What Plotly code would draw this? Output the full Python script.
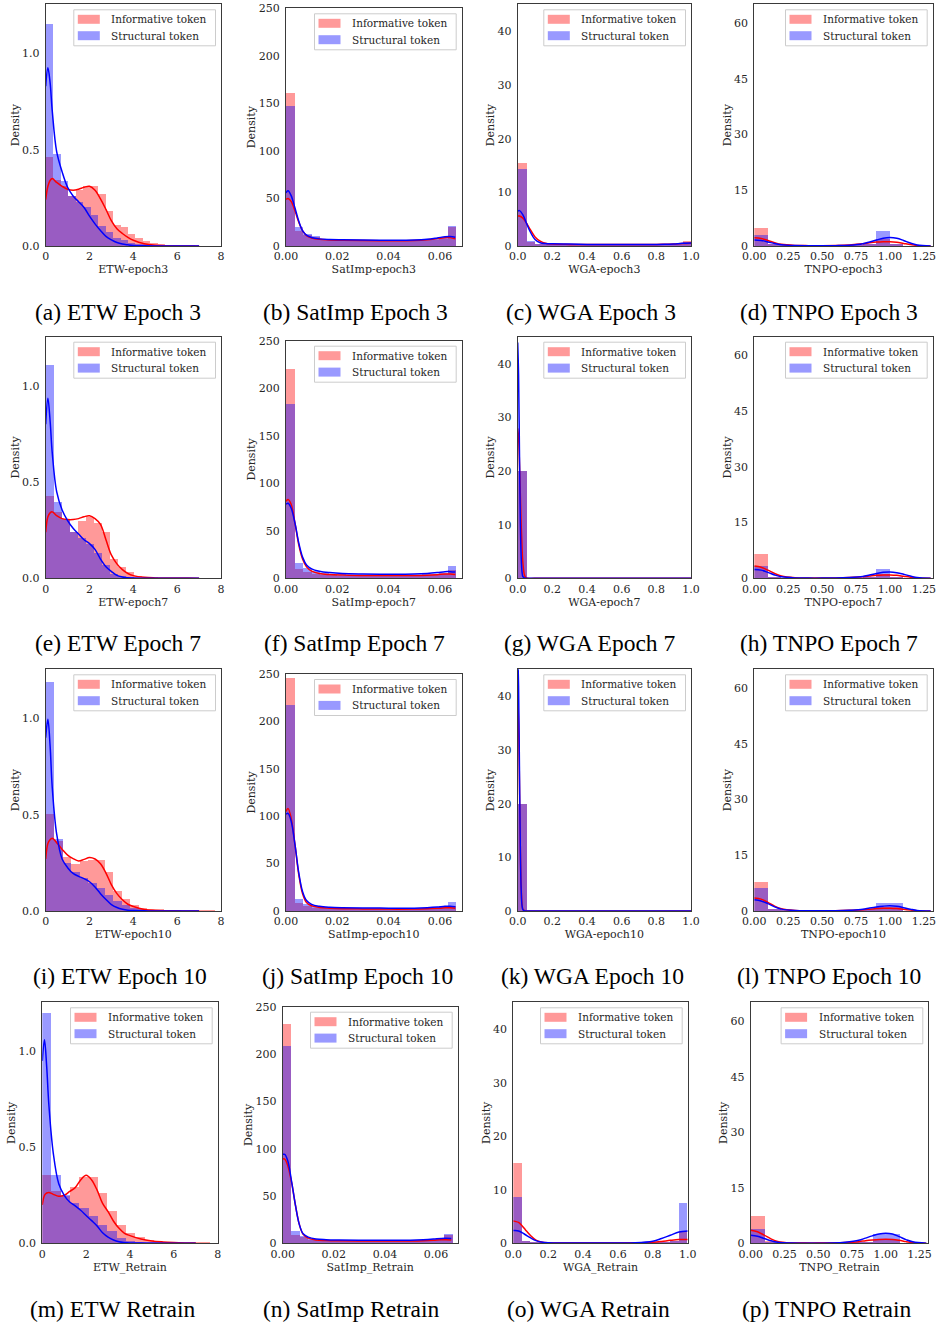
import plotly.graph_objects as go

# ------------------------------------------------------------------
# DATA
# ------------------------------------------------------------------
SERIES_NAMES = ["Informative token", "Structural token"]

# ---- ETW ----
ETW_KDE_X = [0, 0.1, 0.2, 0.3, 0.5, 0.75, 1.0, 1.25, 1.5, 1.75, 2.0, 2.25, 2.5,
             2.75, 3.0, 3.25, 3.5, 3.75, 4.0, 4.5, 5.0, 5.5, 6.0, 6.5, 7.0]

ETW3_BIN_W = 0.34
ETW3_INF_HIST = [0.46, 0.34, 0.31, 0.26, 0.29, 0.31, 0.31, 0.27, 0.18, 0.11, 0.095,
                 0.06, 0.04, 0.025, 0.012, 0.006, 0.003, 0.002, 0.001, 0.001]
ETW3_STR_HIST = [1.15, 0.475, 0.335, 0.26, 0.225, 0.2, 0.16, 0.1, 0.07, 0.04, 0.03,
                 0.015, 0.008, 0.005, 0.003, 0.002, 0.0, 0.001, 0.0, 0.0]
ETW3_INF_KDE = [0.24, 0.31, 0.34, 0.35, 0.33, 0.31, 0.295, 0.29, 0.295, 0.305, 0.31,
                0.29, 0.245, 0.19, 0.13, 0.09, 0.065, 0.045, 0.03, 0.012, 0.004,
                0.001, 0.0, 0.0, 0.0]
ETW3_STR_KDE = [0.83, 0.925, 0.85, 0.7, 0.49, 0.385, 0.305, 0.26, 0.23, 0.2, 0.155,
                0.115, 0.08, 0.05, 0.032, 0.018, 0.01, 0.006, 0.003, 0.001, 0.0,
                0.0, 0.0, 0.0, 0.0]

ETW7_BIN_W = 0.365
ETW7_INF_HIST = [0.43, 0.345, 0.31, 0.24, 0.30, 0.32, 0.29, 0.24, 0.10, 0.06, 0.035,
                 0.015, 0.008, 0.004, 0.002, 0.002, 0.001, 0.001, 0.001, 0.001]
ETW7_STR_HIST = [1.11, 0.40, 0.31, 0.24, 0.21, 0.18, 0.135, 0.07, 0.026, 0.012, 0.006,
                 0.003, 0.002, 0.001, 0.0, 0.0, 0.0, 0.0, 0.0, 0.0]
ETW7_INF_KDE = [0.24, 0.32, 0.34, 0.345, 0.325, 0.31, 0.305, 0.305, 0.31, 0.32, 0.325,
                0.31, 0.28, 0.2, 0.12, 0.075, 0.045, 0.025, 0.014, 0.005, 0.002,
                0.001, 0.001, 0.001, 0.0]
ETW7_STR_KDE = [0.8, 0.935, 0.82, 0.65, 0.45, 0.355, 0.3, 0.26, 0.23, 0.2, 0.18,
                0.15, 0.1, 0.06, 0.035, 0.015, 0.007, 0.003, 0.001, 0.0, 0.0, 0.0,
                0.0, 0.0, 0.0]

ETW10_BIN_W = 0.385
ETW10_INF_HIST = [0.5, 0.36, 0.28, 0.24, 0.26, 0.265, 0.265, 0.2, 0.1, 0.06, 0.03,
                  0.015, 0.008, 0.004, 0.002, 0.001, 0.001, 0.001, 0.001, 0.001]
ETW10_STR_HIST = [1.19, 0.37, 0.25, 0.2, 0.17, 0.145, 0.12, 0.08, 0.05, 0.03, 0.012,
                  0.006, 0.003, 0.002, 0.001, 0.001, 0.0, 0.0, 0.0, 0.0]
ETW10_INF_KDE = [0.27, 0.35, 0.37, 0.378, 0.355, 0.32, 0.29, 0.272, 0.26, 0.268, 0.278,
                 0.27, 0.245, 0.197, 0.136, 0.09, 0.058, 0.035, 0.023, 0.008, 0.003,
                 0.001, 0.001, 0.0, 0.0]
ETW10_STR_KDE = [0.9, 0.995, 0.86, 0.64, 0.4, 0.27, 0.225, 0.195, 0.18, 0.168, 0.152,
                 0.125, 0.09, 0.06, 0.033, 0.018, 0.009, 0.004, 0.002, 0.001, 0.0,
                 0.0, 0.0, 0.0, 0.0]

ETWR_BIN_W = 0.425
ETWR_INF_HIST = [0.355, 0.27, 0.245, 0.29, 0.345, 0.345, 0.26, 0.165, 0.095, 0.05,
                 0.03, 0.015, 0.008, 0.004, 0.002, 0.002, 0.001, 0.001]
ETWR_STR_HIST = [1.2, 0.355, 0.25, 0.21, 0.18, 0.14, 0.095, 0.06, 0.025, 0.01,
                 0.004, 0.002, 0.001, 0.001, 0.0, 0.0, 0.0, 0.0]
ETWR_INF_KDE = [0.2, 0.25, 0.262, 0.265, 0.255, 0.245, 0.25, 0.27, 0.29, 0.33, 0.354,
                0.33, 0.277, 0.208, 0.165, 0.115, 0.078, 0.052, 0.04, 0.022, 0.012,
                0.007, 0.004, 0.002, 0.001]
ETWR_STR_KDE = [0.95, 1.06, 0.92, 0.72, 0.47, 0.31, 0.25, 0.215, 0.195, 0.172, 0.145,
                0.118, 0.09, 0.055, 0.032, 0.017, 0.008, 0.004, 0.002, 0.001, 0.0,
                0.0, 0.0, 0.0, 0.0]

# ---- SatImp ----
SAT_BIN_W = 0.00332
SAT_KDE_X = [0, 0.0008, 0.002, 0.0035, 0.005, 0.0065, 0.008, 0.01, 0.013, 0.017,
             0.022, 0.03, 0.04, 0.05, 0.055, 0.059, 0.062, 0.064, 0.066]

SAT3_INF_HIST = [160.6, 15, 11.5, 9.5, 7, 6, 5.5, 5.5, 5.2, 5, 5, 5, 5, 5.2, 5.3,
                 5.5, 6, 6.5, 7.5, 20]
SAT3_STR_HIST = [146.6, 19.3, 12.3, 10, 7.5, 6.5, 6, 5.8, 5.5, 5.3, 5.2, 5.2, 5.3,
                 5.5, 5.6, 5.8, 6.2, 7, 8, 21]
SAT3_INF_KDE = [49, 50, 47, 37, 25, 16, 11, 8.5, 7, 6.4, 6, 5.8, 5.6, 5.8, 6.5, 7.8,
                8.8, 8.8, 7.5]
SAT3_STR_KDE = [56, 58, 53, 40, 26, 16, 11.5, 9, 7.5, 6.8, 6.5, 6.2, 6.0, 6.2, 7,
                8.5, 9.8, 10, 9.2]

SAT7_INF_HIST = [221, 9.8, 7, 5, 4, 3.5, 3.2, 3, 3, 3, 3, 3, 3, 3, 3, 3.2, 3.5, 4,
                 5, 8.8]
SAT7_STR_HIST = [183.4, 16.8, 10.9, 7.5, 5.5, 4.8, 4.5, 4.2, 4, 4, 3.8, 3.8, 3.8,
                 3.8, 4, 4.2, 4.5, 5, 6, 13]
SAT7_INF_KDE = [81, 83, 78, 58, 35, 20, 12, 7.5, 5, 4, 3.5, 3, 3, 3, 3.2, 3.8, 4.5,
                4.5, 4]
SAT7_STR_KDE = [78, 79, 74, 58, 37, 22, 14, 10, 7.5, 6, 5, 4.5, 4.2, 4.4, 5, 6, 7,
                7, 6.5]

SAT10_INF_HIST = [245.8, 8, 5.6, 3.5, 2.8, 2.5, 2.3, 2.2, 2.2, 2.2, 2.2, 2.2, 2.2,
                  2.2, 2.3, 2.5, 2.8, 3.2, 3.8, 5.6]
SAT10_STR_HIST = [217.6, 12.3, 7.4, 5, 4, 3.6, 3.4, 3.2, 3, 3, 2.9, 2.9, 2.9, 3, 3,
                  3.2, 3.5, 4, 5, 9.2]
SAT10_INF_KDE = [105, 108, 98, 70, 38, 18, 9, 5.5, 3.8, 3, 2.5, 2.2, 2, 2, 2.3, 2.8,
                 3.3, 3.3, 3]
SAT10_STR_KDE = [102, 103, 95, 70, 40, 20, 11, 7, 5, 4, 3.5, 3.2, 3, 3, 3.5, 4.2, 5,
                 5, 4.6]

SATR_INF_HIST = [231.7, 8.8, 7, 4, 3, 2.8, 2.6, 2.5, 2.5, 2.5, 2.5, 2.5, 2.5, 2.5,
                 2.6, 2.8, 3, 3.5, 4.5, 8.8]
SATR_STR_HIST = [208.5, 13.7, 8, 5, 4, 3.6, 3.4, 3.2, 3.2, 3.2, 3.2, 3.2, 3.2, 3.2,
                 3.3, 3.5, 3.8, 4.5, 5.5, 10.6]
SATR_INF_KDE = [89, 89, 82, 64, 40, 20, 9.5, 5.5, 3.5, 3, 2.7, 2.5, 2.4, 2.5, 2.8,
                3.3, 3.8, 3.8, 3.5]
SATR_STR_KDE = [94, 94, 87, 65, 40, 20, 10, 6.5, 4.5, 3.8, 3.5, 3.3, 3.2, 3.3, 3.8,
                4.5, 5.2, 5.3, 5]

# ---- WGA ----
WGA_BIN_W = 0.05
WGA_KDE_X = [0, 0.01, 0.03, 0.05, 0.07, 0.1, 0.13, 0.16, 0.2, 0.3, 0.4, 0.5, 0.6,
             0.7, 0.8, 0.85, 0.9, 0.95, 1.0]
WGA_SPIKE_X = [0, 0.005, 0.01, 0.015, 0.02, 0.025, 0.03, 0.04, 0.05, 0.1, 0.5, 1.0]

WGA3_INF_HIST = [15.4, 0.6, 0.3, 0.2, 0.15, 0.12, 0.1, 0.1, 0.1, 0.1, 0.1, 0.1, 0.1,
                 0.1, 0.1, 0.12, 0.15, 0.2, 0.3, 0.93]
WGA3_STR_HIST = [14.4, 0.93, 0.35, 0.2, 0.15, 0.12, 0.1, 0.1, 0.1, 0.1, 0.1, 0.1,
                 0.1, 0.1, 0.1, 0.12, 0.15, 0.2, 0.3, 0.6]
WGA3_INF_KDE = [5.6, 5.6, 5.2, 4.3, 3.2, 1.7, 0.9, 0.5, 0.35, 0.3, 0.3, 0.3, 0.3,
                0.3, 0.3, 0.32, 0.35, 0.45, 0.5]
WGA3_STR_KDE = [6.5, 6.6, 5.8, 4.3, 2.8, 1.2, 0.6, 0.45, 0.4, 0.35, 0.3, 0.3, 0.3,
                0.3, 0.3, 0.32, 0.38, 0.5, 0.55]

WGA7_INF_HIST = [20.0]
WGA7_STR_HIST = [20.0]
WGA7_INF_KDE = [28, 26.3, 21.7, 15.9, 10, 5.7, 2.8, 0.5, 0.05, 0.0, 0.0, 0.0]
WGA7_STR_KDE = [44, 38, 24, 11, 4, 1.2, 0.3, 0.05, 0.02, 0.0, 0.0, 0.0]

WGA10_INF_HIST = [20.0]
WGA10_STR_HIST = [20.0]
WGA10_INF_KDE = [40, 35, 24, 12, 4.5, 1.3, 0.3, 0.05, 0.0, 0.0, 0.0, 0.0]
WGA10_STR_KDE = [48, 42, 27, 12, 4, 1.0, 0.25, 0.03, 0.0, 0.0, 0.0, 0.0]

WGAR_INF_HIST = [14.9, 0.4, 0.1, 0.05, 0.05, 0.05, 0.05, 0.05, 0.05, 0.05, 0.05,
                 0.05, 0.05, 0.05, 0.05, 0.05, 0.05, 0.1, 0.2, 2.2]
WGAR_STR_HIST = [8.6, 0.4, 0.1, 0.05, 0.05, 0.05, 0.05, 0.05, 0.05, 0.05, 0.05,
                 0.05, 0.05, 0.05, 0.05, 0.05, 0.05, 0.1, 0.2, 7.5]
WGAR_INF_KDE = [4.2, 4.1, 3.9, 3.3, 2.5, 1.4, 0.6, 0.25, 0.1, 0.05, 0.05, 0.05,
                0.05, 0.08, 0.2, 0.35, 0.55, 0.7, 0.7]
WGAR_STR_KDE = [2.4, 2.4, 2.3, 2.0, 1.6, 1.0, 0.5, 0.25, 0.1, 0.05, 0.05, 0.05,
                0.05, 0.1, 0.4, 0.9, 1.5, 2.1, 2.3]

# ---- TNPO ----
TNPO_BIN_W = 0.1
TNPO_KDE_X = [0, 0.05, 0.1, 0.15, 0.2, 0.3, 0.4, 0.5, 0.6, 0.7, 0.8, 0.85, 0.9,
              0.95, 1.0, 1.05, 1.1, 1.15, 1.2, 1.3]

TNPO3_INF_HIST = [4.8, 0.3, 0.1, 0.05, 0.05, 0.05, 0.05, 0.1, 0.2, 1.8, 0.3]
TNPO3_STR_HIST = [3.0, 0.2, 0.1, 0.05, 0.05, 0.05, 0.05, 0.1, 0.2, 3.9, 0.5]
TNPO3_INF_KDE = [2.2, 2.0, 1.5, 0.9, 0.45, 0.15, 0.1, 0.1, 0.15, 0.3, 0.6, 0.85,
                 1.05, 1.15, 1.15, 1.0, 0.7, 0.4, 0.15, 0.02]
TNPO3_STR_KDE = [1.6, 1.5, 1.1, 0.65, 0.35, 0.12, 0.08, 0.08, 0.1, 0.2, 0.6, 1.1,
                 1.6, 2.1, 2.3, 2.1, 1.5, 0.8, 0.3, 0.03]

TNPO7_INF_HIST = [6.7, 0.3, 0.1, 0.05, 0.05, 0.05, 0.05, 0.1, 0.2, 1.2, 0.3]
TNPO7_STR_HIST = [3.5, 0.2, 0.1, 0.05, 0.05, 0.05, 0.05, 0.1, 0.2, 2.6, 0.4]
TNPO7_INF_KDE = [3.3, 3.0, 2.2, 1.3, 0.6, 0.15, 0.08, 0.08, 0.1, 0.2, 0.4, 0.6, 0.8,
                 0.9, 0.9, 0.8, 0.55, 0.3, 0.1, 0.01]
TNPO7_STR_KDE = [2.4, 2.2, 1.6, 0.9, 0.4, 0.1, 0.05, 0.05, 0.08, 0.2, 0.5, 0.9, 1.3,
                 1.6, 1.7, 1.5, 1.1, 0.6, 0.2, 0.02]

TNPO10_INF_HIST = [7.8, 0.3, 0.1, 0.05, 0.05, 0.05, 0.05, 0.1, 0.2, 0.9, 0.9]
TNPO10_STR_HIST = [6.0, 0.2, 0.1, 0.05, 0.05, 0.05, 0.05, 0.1, 0.2, 2.0, 2.0]
TNPO10_INF_KDE = [3.5, 3.2, 2.3, 1.3, 0.6, 0.15, 0.08, 0.08, 0.1, 0.2, 0.35, 0.5,
                  0.65, 0.75, 0.75, 0.65, 0.45, 0.25, 0.08, 0.01]
TNPO10_STR_KDE = [3.0, 2.7, 2.0, 1.1, 0.5, 0.12, 0.05, 0.05, 0.08, 0.2, 0.45, 0.8,
                  1.1, 1.3, 1.4, 1.25, 0.9, 0.5, 0.15, 0.02]

TNPOR_INF_HIST = [7.2, 0.3, 0.05, 0.02, 0.02, 0.02, 0.02, 0.05, 0.1, 0.9, 0.9]
TNPOR_STR_HIST = [3.9, 0.2, 0.05, 0.02, 0.02, 0.02, 0.02, 0.05, 0.1, 2.3, 2.3]
TNPOR_INF_KDE = [3.5, 3.1, 2.2, 1.2, 0.5, 0.1, 0.05, 0.05, 0.1, 0.2, 0.45, 0.7, 0.9,
                 1.05, 1.1, 1.05, 0.8, 0.45, 0.2, 0.02]
TNPOR_STR_KDE = [2.2, 1.9, 1.3, 0.7, 0.3, 0.08, 0.04, 0.04, 0.1, 0.3, 0.8, 1.4, 2.0,
                 2.5, 2.7, 2.5, 1.8, 1.0, 0.4, 0.03]

# ---- axis ticks per method ----
ETW_XTICKS = [0, 2, 4, 6, 8]
ETW_YTICKS = [0.0, 0.5, 1.0]
SAT_XTICKS = [0.0, 0.02, 0.04, 0.06]
SAT_YTICKS = [0, 50, 100, 150, 200, 250]
WGA_XTICKS = [0.0, 0.2, 0.4, 0.6, 0.8, 1.0]
WGA_YTICKS = [0, 10, 20, 30, 40]
TNPO_XTICKS = [0.0, 0.25, 0.5, 0.75, 1.0, 1.25]
TNPO_YTICKS = [0, 15, 30, 45, 60]

# ------------------------------------------------------------------
# PANEL DEFINITIONS
# ------------------------------------------------------------------
PANELS = [
    ("ETW", "ETW-epoch3", "(a) ETW Epoch 3", ETW3_BIN_W, ETW3_INF_HIST, ETW3_STR_HIST, ETW_KDE_X, ETW3_INF_KDE, ETW3_STR_KDE),
    ("SAT", "SatImp-epoch3", "(b) SatImp Epoch 3", SAT_BIN_W, SAT3_INF_HIST, SAT3_STR_HIST, SAT_KDE_X, SAT3_INF_KDE, SAT3_STR_KDE),
    ("WGA", "WGA-epoch3", "(c) WGA Epoch 3", WGA_BIN_W, WGA3_INF_HIST, WGA3_STR_HIST, WGA_KDE_X, WGA3_INF_KDE, WGA3_STR_KDE),
    ("TNPO", "TNPO-epoch3", "(d) TNPO Epoch 3", TNPO_BIN_W, TNPO3_INF_HIST, TNPO3_STR_HIST, TNPO_KDE_X, TNPO3_INF_KDE, TNPO3_STR_KDE),
    ("ETW", "ETW-epoch7", "(e) ETW Epoch 7", ETW7_BIN_W, ETW7_INF_HIST, ETW7_STR_HIST, ETW_KDE_X, ETW7_INF_KDE, ETW7_STR_KDE),
    ("SAT", "SatImp-epoch7", "(f) SatImp Epoch 7", SAT_BIN_W, SAT7_INF_HIST, SAT7_STR_HIST, SAT_KDE_X, SAT7_INF_KDE, SAT7_STR_KDE),
    ("WGA", "WGA-epoch7", "(g) WGA Epoch 7", WGA_BIN_W, WGA7_INF_HIST, WGA7_STR_HIST, WGA_SPIKE_X, WGA7_INF_KDE, WGA7_STR_KDE),
    ("TNPO", "TNPO-epoch7", "(h) TNPO Epoch 7", TNPO_BIN_W, TNPO7_INF_HIST, TNPO7_STR_HIST, TNPO_KDE_X, TNPO7_INF_KDE, TNPO7_STR_KDE),
    ("ETW", "ETW-epoch10", "(i) ETW Epoch 10", ETW10_BIN_W, ETW10_INF_HIST, ETW10_STR_HIST, ETW_KDE_X, ETW10_INF_KDE, ETW10_STR_KDE),
    ("SAT", "SatImp-epoch10", "(j) SatImp Epoch 10", SAT_BIN_W, SAT10_INF_HIST, SAT10_STR_HIST, SAT_KDE_X, SAT10_INF_KDE, SAT10_STR_KDE),
    ("WGA", "WGA-epoch10", "(k) WGA Epoch 10", WGA_BIN_W, WGA10_INF_HIST, WGA10_STR_HIST, WGA_SPIKE_X, WGA10_INF_KDE, WGA10_STR_KDE),
    ("TNPO", "TNPO-epoch10", "(l) TNPO Epoch 10", TNPO_BIN_W, TNPO10_INF_HIST, TNPO10_STR_HIST, TNPO_KDE_X, TNPO10_INF_KDE, TNPO10_STR_KDE),
    ("ETW", "ETW_Retrain", "(m) ETW Retrain", ETWR_BIN_W, ETWR_INF_HIST, ETWR_STR_HIST, ETW_KDE_X, ETWR_INF_KDE, ETWR_STR_KDE),
    ("SAT", "SatImp_Retrain", "(n) SatImp Retrain", SAT_BIN_W, SATR_INF_HIST, SATR_STR_HIST, SAT_KDE_X, SATR_INF_KDE, SATR_STR_KDE),
    ("WGA", "WGA_Retrain", "(o) WGA Retrain", WGA_BIN_W, WGAR_INF_HIST, WGAR_STR_HIST, WGA_KDE_X, WGAR_INF_KDE, WGAR_STR_KDE),
    ("TNPO", "TNPO_Retrain", "(p) TNPO Retrain", TNPO_BIN_W, TNPOR_INF_HIST, TNPOR_STR_HIST, TNPO_KDE_X, TNPOR_INF_KDE, TNPOR_STR_KDE),
]

# ------------------------------------------------------------------
# LAYOUT / STYLE (pixel geometry of the page)
# ------------------------------------------------------------------
W, H = 938, 1326

AXES = {
    "ETW": dict(xr=[0, 8], yr=[0, 1.255], xt=ETW_XTICKS, yt=ETW_YTICKS, xf="d", yf=".1f"),
    "SAT": dict(xr=[0, 0.0685], yr=[0, 250], xt=SAT_XTICKS, yt=SAT_YTICKS, xf=".2f", yf="d"),
    "WGA": dict(xr=[0, 1.0], yr=[0, 45.1], xt=WGA_XTICKS, yt=WGA_YTICKS, xf=".1f", yf="d"),
    "TNPO": dict(xr=[0, 1.315], yr=[0, 65.1], xt=TNPO_XTICKS, yt=TNPO_YTICKS, xf=".2f", yf="d"),
}

# plot-area boxes in px: (left, right, top, bottom)
BOXES = [
    (45.7, 221.0, 4.3, 246.0), (286.0, 461.7, 8.3, 246.0), (517.7, 691.0, 4.3, 246.0), (754.3, 932.7, 4.3, 246.0),
    (45.7, 221.0, 336.7, 578.3), (286.0, 461.7, 340.7, 578.3), (517.7, 691.0, 336.7, 578.3), (754.3, 932.7, 336.7, 578.3),
    (45.7, 221.0, 669.3, 911.0), (286.0, 461.7, 674.0, 911.0), (517.7, 691.0, 669.3, 911.0), (754.3, 932.7, 669.3, 911.0),
    (42.3, 217.7, 1002.3, 1243.3), (282.7, 457.7, 1006.7, 1243.3), (513.3, 687.7, 1002.3, 1243.3), (750.7, 928.3, 1002.3, 1243.3),
]
# caption centres in px
CAPTIONS = [
    (117.5, 311.5), (355.0, 311.5), (591.0, 311.5), (829.0, 311.5),
    (117.5, 643.0), (354.0, 643.0), (589.0, 643.0), (829.0, 643.0),
    (120.0, 976.0), (357.0, 976.0), (592.0, 976.0), (829.0, 976.0),
    (113.0, 1308.5), (350.8, 1308.5), (588.3, 1308.5), (826.7, 1308.5),
]

RED = "#ff0000"
BLUE = "#0000ff"
RED_PATCH = "rgba(255,0,0,0.4)"
BLUE_PATCH = "rgba(0,0,255,0.4)"
ALPHA = 0.4
SPINE = "#3a3a3a"
TEXT = "#262626"
TICK_FONT = dict(family="DejaVu Serif", size=11, color=TEXT)
LABEL_FONT = dict(family="DejaVu Serif", size=11, color=TEXT)
LEGEND_FONT = dict(family="DejaVu Serif", size=10.5, color=TEXT)
CAPTION_FONT = dict(family="Liberation Serif", size=23.5, color="#000000")

# legend geometry relative to the axes' top-right corner (px)
LEG_INSET = 5.5
LEG_W, LEG_H = 141.7, 36.0
LEG_ROWS = [15.0, 31.4]          # row centres below axes top
LEG_PATCH_X = (4.0, 26.0)        # patch span from legend left
LEG_PATCH_H = 9.0
LEG_TEXT_X = 35.5


def px(x):
    return x / W


def py(y):
    return 1 - y / H


fig = go.Figure()
layout = dict(
    width=W, height=H, margin=dict(l=0, r=0, t=0, b=0),
    paper_bgcolor="white", plot_bgcolor="white",
    barmode="overlay", bargap=0, showlegend=False, template="none",
)
annotations = []
shapes = []

for i, (method, xlabel, caption, bw, inf_h, str_h, kx, inf_k, str_k) in enumerate(PANELS):
    n = i + 1
    sfx = "" if n == 1 else str(n)
    xa, ya = "x" + sfx, "y" + sfx

    for name, hist, kde, color in ((SERIES_NAMES[0], inf_h, inf_k, RED),
                                   (SERIES_NAMES[1], str_h, str_k, BLUE)):
        edges = [k * bw for k in range(len(hist))]
        fig.add_trace(go.Bar(
            x=edges, y=hist, width=bw, offset=0, name=name,
            marker=dict(color=color, line=dict(width=0)), opacity=ALPHA,
            xaxis=xa, yaxis=ya, hoverinfo="skip",
        ))
        fig.add_trace(go.Scatter(
            x=kx, y=kde, mode="lines", name=name + " KDE",
            line=dict(color=color, width=1.5, shape="spline", smoothing=1.0),
            xaxis=xa, yaxis=ya, hoverinfo="skip", cliponaxis=True,
        ))

    l, r, t, b = BOXES[i]
    ax = AXES[method]
    layout["xaxis" + sfx] = dict(
        domain=[px(l), px(r)], anchor=ya, range=ax["xr"], tickvals=ax["xt"],
        tickformat=ax["xf"], ticks="", showgrid=False, zeroline=False,
        showline=True, mirror=True, linecolor=SPINE, linewidth=1.2,
        tickfont=TICK_FONT, automargin=False,
        title=dict(text=xlabel, font=LABEL_FONT, standoff=2),
    )
    layout["yaxis" + sfx] = dict(
        domain=[py(b), py(t)], anchor=xa, range=ax["yr"], tickvals=ax["yt"],
        tickformat=ax["yf"], ticks="", showgrid=False, zeroline=False,
        showline=True, mirror=True, linecolor=SPINE, linewidth=1.2,
        tickfont=TICK_FONT, automargin=False, ticklabelstandoff=3,
        title=dict(text="Density", font=LABEL_FONT, standoff=0),
    )

    # legend box (matplotlib-style: wide patches, light frame)
    lx1 = r - LEG_INSET
    lx0 = lx1 - LEG_W
    ly0 = t + LEG_INSET
    ly1 = ly0 + LEG_H
    shapes.append(dict(
        type="rect", xref="paper", yref="paper",
        x0=px(lx0), x1=px(lx1), y0=py(ly1), y1=py(ly0),
        fillcolor="rgba(255,255,255,0.8)", line=dict(color="#cccccc", width=1),
        layer="above",
    ))
    for row_y, patch_col, label in zip(LEG_ROWS, (RED_PATCH, BLUE_PATCH), SERIES_NAMES):
        cy = t + row_y
        shapes.append(dict(
            type="rect", xref="paper", yref="paper",
            x0=px(lx0 + LEG_PATCH_X[0]), x1=px(lx0 + LEG_PATCH_X[1]),
            y0=py(cy + LEG_PATCH_H / 2), y1=py(cy - LEG_PATCH_H / 2),
            fillcolor=patch_col, line=dict(width=0), layer="above",
        ))
        annotations.append(dict(
            text=label, x=px(lx0 + LEG_TEXT_X), y=py(cy), xref="paper", yref="paper",
            xanchor="left", yanchor="middle", showarrow=False, font=LEGEND_FONT,
        ))

    cx, cy = CAPTIONS[i]
    annotations.append(dict(
        text=caption, x=px(cx), y=py(cy), xref="paper", yref="paper",
        xanchor="center", yanchor="middle", showarrow=False, font=CAPTION_FONT,
    ))

layout["annotations"] = annotations
layout["shapes"] = shapes
fig.update_layout(**layout)
fig.write_html("out.html")
